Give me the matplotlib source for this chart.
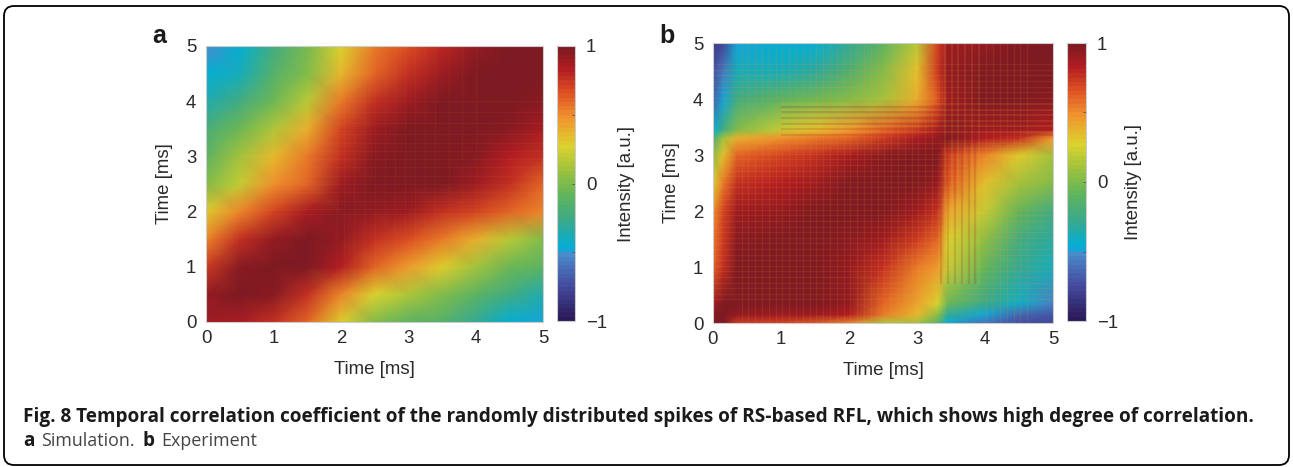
import matplotlib
matplotlib.use("Agg")
import matplotlib.pyplot as plt
import numpy as np
from matplotlib.colors import LinearSegmentedColormap
from matplotlib.patches import FancyBboxPatch

W, H = 1293, 467

time_sim = [0, 0.5, 1, 1.5, 2, 2.5, 3, 3.5, 4, 4.5, 5]
time_exp = [0, 0.15, 0.35, 1, 1.5, 2, 2.5, 3, 3.3, 3.45, 4, 4.5, 5]

# rows go from Time = 0 up to Time = 5
corr_sim = [
    [.90, .85, .78, .62, .30, .00, -.10, -.15, -.30, -.46, -.48],
    [.92, 1.0, .94, .78, .50, .28, .15, .00, -.10, -.22, -.35],
    [.72, .94, 1.0, .98, .84, .62, .46, .30, .12, -.05, -.12],
    [.50, .76, .92, 1.0, .92, .78, .68, .55, .38, .18, .02],
    [.30, .50, .70, .86, .96, .92, .88, .78, .70, .60, .50],
    [.00, .20, .48, .62, .88, .97, 1.0, .97, .90, .76, .62],
    [-.10, .10, .35, .55, .78, .94, 1.0, 1.0, .96, .84, .76],
    [-.20, -.05, .15, .38, .70, .88, .98, 1.0, 1.0, .94, .86],
    [-.35, -.25, -.05, .18, .55, .78, .90, .97, 1.0, 1.0, .94],
    [-.46, -.38, -.15, .00, .35, .62, .78, .90, .98, 1.0, 1.0],
    [-.52, -.46, -.25, -.02, .28, .55, .66, .80, .92, 1.0, 1.0],
]

corr_exp = [
    [.98, .98, .72, .70, .65, .50, .15, .10, -.10, -.45, -.62, -.72, -.76],
    [1.0, 1.0, .92, .90, .88, .82, .55, .35, .05, -.30, -.50, -.65, -.70],
    [.85, 1.0, 1.0, 1.0, 1.0, .92, .62, .42, .25, -.05, -.28, -.42, -.55],
    [.62, .78, 1.0, 1.0, 1.0, .92, .76, .56, .45, .20, -.08, -.30, -.38],
    [.55, .72, .96, 1.0, 1.0, .96, .88, .72, .62, .28, .05, -.25, -.32],
    [.48, .70, .88, .92, 1.0, 1.0, .98, .88, .78, .42, .20, -.08, -.25],
    [.25, .55, .76, .82, .90, 1.0, 1.0, 1.0, .92, .65, .32, .10, .02],
    [.05, .32, .62, .70, .78, .86, .96, 1.0, 1.0, .72, .50, .30, .12],
    [-.20, .10, .38, .48, .55, .62, .72, .85, .92, 1.0, .82, .75, .45],
    [-.45, -.25, .02, .20, .32, .45, .60, .72, .85, .95, .90, .88, .84],
    [-.68, -.48, -.22, -.12, -.05, .02, .12, .40, .65, .90, 1.0, 1.0, .95],
    [-.75, -.58, -.40, -.40, -.32, -.18, .00, .32, .72, .92, 1.0, 1.0, .98],
    [-.82, -.78, -.50, -.45, -.45, -.30, -.10, .18, .70, .88, .92, .98, 1.0],
]

# line texture of the maps, one entry per visible stripe
stripes_exp = [
    0.42, 0.52, 0.62, 0.72, 0.82, 0.92, 1.02, 1.12, 1.22, 1.32, 1.42, 1.52,
    1.62, 1.72, 1.82, 1.92, 2.02, 2.12, 2.22, 2.32, 2.42, 2.52, 2.62, 2.72,
    2.82, 2.92, 3.02, 3.12, 3.22, 4.02, 4.12, 4.22, 4.32, 4.42, 4.52, 4.62,
]
stripes_sim = [
    1.95, 2.05, 2.2, 2.35, 2.5, 2.65, 2.8, 2.95, 3.1, 3.25, 3.4, 3.6, 3.8, 4.0,
]
bright_exp = [3.41, 3.51, 3.61, 3.71, 3.81, 3.91]
dark_exp = [3.36, 3.46, 3.56, 3.66, 3.76, 3.86]

ticks = [0, 1, 2, 3, 4, 5]
cbar_ticks = [-1, -0.5, 0, 0.5, 1]
cbar_labels = ["\u22121", "", "0", "", "1"]

cmap_stops = [
    (0.00, "#2b1a5a"), (0.12, "#44499c"), (0.24, "#4a8ccb"), (0.26, "#00aedb"),
    (0.36, "#3aa98c"), (0.46, "#62b55a"), (0.54, "#98c040"), (0.64, "#dcd32e"),
    (0.74, "#f0952e"), (0.84, "#dc4e22"), (0.92, "#b21d22"), (1.00, "#7e1a22"),
]
cmap = LinearSegmentedColormap.from_list("corr", cmap_stops, N=64)

plt.rcParams["font.family"] = ["Liberation Sans", "DejaVu Sans"]
text_col = "#2a2a2a"
fs = 13.4
caption_fs = 13.68


def px_axes(fig, x0, y0, x1, y1):
    return fig.add_axes([x0 / W, 1 - y1 / H, (x1 - x0) / W, (y1 - y0) / H])


def panel(fig, box, cbox, times, data, stripes, strength, letter, letter_xy, label_pad):
    ax = px_axes(fig, *box)
    im = ax.pcolormesh(times, times, np.array(data), shading="gouraud",
                       cmap=cmap, vmin=-1, vmax=1)
    ax.vlines(stripes, 0, 5, color="#ff9a30", alpha=strength, lw=0.9)
    ax.hlines(stripes, 0, 5, color="#ff9a30", alpha=strength, lw=0.9)
    ax.set_xlim(0, 5)
    ax.set_ylim(0, 5)
    ax.set_xticks(ticks)
    ax.set_yticks(ticks)
    ax.tick_params(axis="x", length=0, labelsize=fs, pad=6, colors=text_col)
    ax.tick_params(axis="y", length=0, labelsize=fs, pad=7, colors=text_col)
    ax.set_xlabel("Time [ms]", fontsize=fs, labelpad=10, color=text_col)
    ax.set_ylabel("Time [ms]", fontsize=fs, labelpad=9, color=text_col)
    for sp in ax.spines.values():
        sp.set_color("#cccccc")
        sp.set_linewidth(0.8)
    fig.text(letter_xy[0] / W, 1 - letter_xy[1] / H, letter, fontsize=18,
             fontweight="bold", color="#1a1a1a", va="center", ha="left")

    cax = px_axes(fig, *cbox)
    cb = fig.colorbar(im, cax=cax)
    cb.set_ticks(cbar_ticks, labels=cbar_labels)
    cax.tick_params(length=2, width=0.6, direction="in", color="#555555",
                    labelsize=fs, pad=8, labelcolor=text_col)
    cb.outline.set_edgecolor("#cccccc")
    cb.outline.set_linewidth(0.8)
    cb.set_label("Intensity [a.u.]", fontsize=fs, labelpad=label_pad, color=text_col)
    return ax


fig = plt.figure(figsize=(W / 100, H / 100), dpi=100)

panel(fig, (206, 46, 543, 322), (557, 46, 575, 321), time_sim, corr_sim,
      stripes_sim, 0.06, "a", (152, 36), 8)
ax_b = panel(fig, (713, 43, 1053, 323), (1067, 43, 1086, 321), time_exp, corr_exp,
             stripes_exp, 0.12, "b", (659, 36), 5)

# the crossing stripes around 3.3-4 ms in the experiment
ax_b.vlines(bright_exp, 0.7, 5, color="#f2d040", alpha=0.16, lw=1.1)
ax_b.hlines(bright_exp, 1.0, 5, color="#f2d040", alpha=0.16, lw=1.1)
ax_b.vlines(dark_exp, 0.7, 5, color="#b01c20", alpha=0.22, lw=1.1)
ax_b.hlines(dark_exp, 1.0, 5, color="#b01c20", alpha=0.22, lw=1.1)

frame = fig.add_axes([0, 0, 1, 1], zorder=-1)
frame.set_xlim(0, W)
frame.set_ylim(H, 0)
frame.axis("off")
frame.add_patch(FancyBboxPatch((4, 6), W - 8, H - 8, boxstyle="round,pad=0,rounding_size=10",
                               fc="none", ec="black", lw=1.3))

fig.text(23 / W, 1 - 417 / H,
         "Fig. 8 Temporal correlation coefficient of the randomly distributed spikes of "
         "RS-based RFL, which shows high degree of correlation.",
         family="Open Sans", fontweight="bold", fontsize=caption_fs, color="#1a1a1a", va="center")
fig.text(23 / W, 1 - 441 / H, "a", family="Open Sans", fontweight="bold",
         fontsize=caption_fs, color="#1a1a1a", va="center")
fig.text(41 / W, 1 - 441 / H, "Simulation.", family="Open Sans", fontsize=12.9,
         color="#444444", va="center")
fig.text(142 / W, 1 - 441 / H, "b", family="Open Sans", fontweight="bold",
         fontsize=caption_fs, color="#1a1a1a", va="center")
fig.text(161 / W, 1 - 441 / H, "Experiment", family="Open Sans", fontsize=12.9,
         color="#444444", va="center")

fig.savefig("out.png", dpi=100)
